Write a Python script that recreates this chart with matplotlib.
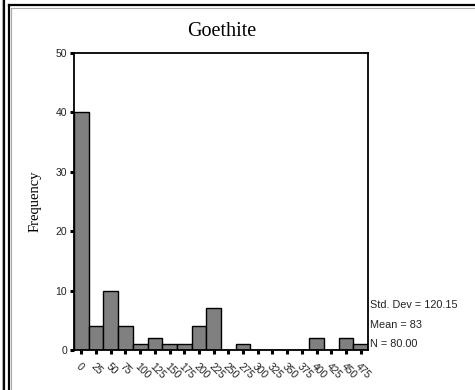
import matplotlib
matplotlib.use("Agg")
import matplotlib.pyplot as plt
from matplotlib.lines import Line2D

title = "Goethite"
bin_labels = ["0", "25", "50", "75", "100", "125", "150", "175", "200", "225",
              "250", "275", "300", "325", "350", "375", "400", "425", "450", "475"]
counts = [40, 4, 10, 4, 1, 2, 1, 1, 4, 7, 0, 1, 0, 0, 0, 0, 2, 0, 2, 1]
y_ticks = [0, 10, 20, 30, 40, 50]
stats = ["Std. Dev = 120.15", "Mean = 83", "N = 80.00"]

W, H = 475, 390
fig = plt.figure(figsize=(W / 100, H / 100), dpi=100)
fig.patch.set_facecolor("white")

# outer frame lines (figure pixel coords)
def fl(x0, y0, x1, y1, **kw):
    fig.add_artist(Line2D([x0 / W, x1 / W], [1 - y0 / H, 1 - y1 / H],
                          transform=fig.transFigure, **kw))

fl(4, 0, 4, 390, color="black", lw=1.6)
fl(2, 0, 2, 390, color="#aaaaaa", lw=0.8)
fl(8.5, 5, 8.5, 390, color="black", lw=1.6)
fl(8.5, 5, 475, 5, color="black", lw=1.6)
fl(11, 7.5, 11, 390, color="#aaaaaa", lw=0.8)
fl(11, 7.5, 475, 7.5, color="#aaaaaa", lw=0.8)

left, right, top, bottom = 74, 368, 53, 350
ax = fig.add_axes([left / W, 1 - bottom / H, (right - left) / W, (bottom - top) / H])

x = list(range(len(counts)))
ax.bar(x, counts, width=1.0, color="#808080", edgecolor="black", linewidth=1.0, zorder=2)
ax.set_xlim(-0.5, len(counts) - 0.5)
ax.set_ylim(0, 50)

for s in ax.spines.values():
    s.set_linewidth(1.3)
    s.set_color("black")

ax.set_yticks(y_ticks)
ax.set_yticklabels([str(v) for v in y_ticks], fontsize=7.5, family="Liberation Sans", color="#222222")
ax.set_xticks(x)
ax.set_xticklabels(bin_labels, fontsize=7.5, family="Liberation Sans", rotation=-45,
                   ha="left", va="top", rotation_mode="anchor", color="#222222")
ax.tick_params(axis="both", direction="out", length=3, width=2.2, color="black", pad=2)
ax.tick_params(axis="x", pad=5)

ax.set_ylabel("Frequency", family="Liberation Serif", fontsize=10.5, labelpad=10)

fig.text(222 / W, 1 - 31 / H, title, family="Liberation Serif", fontsize=14.5,
         ha="center", va="center")

for i, s in enumerate(stats):
    fig.text(370 / W, 1 - (305 + i * 19.5) / H, s, family="Liberation Sans",
             fontsize=7.8, ha="left", va="center", color="#222222")

fig.savefig("out.png", dpi=100, facecolor="white")
